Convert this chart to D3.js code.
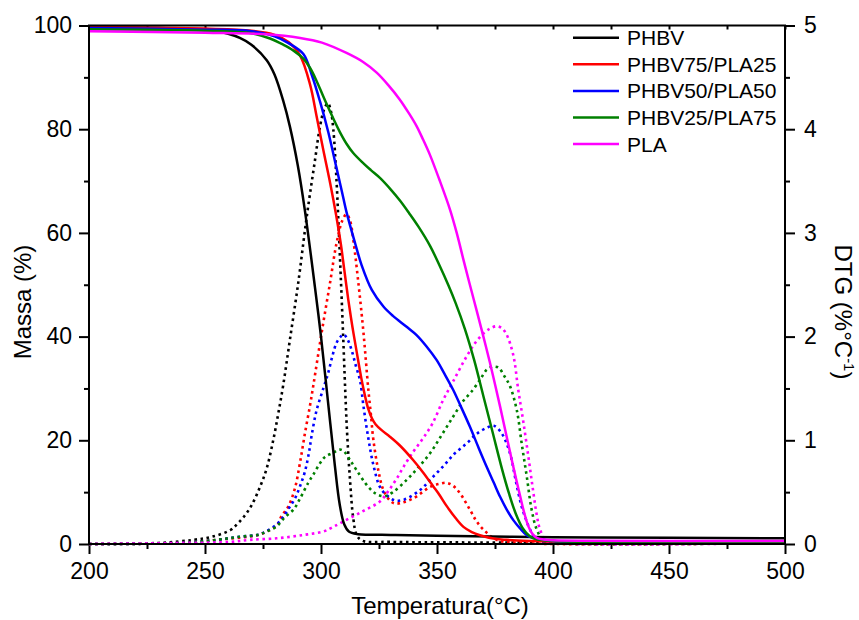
<!DOCTYPE html>
<html><head><meta charset="utf-8">
<script src="https://cdn.jsdelivr.net/npm/d3@7"></script>
<style>
body{margin:0;background:#fff;}
text{font-family:"Liberation Sans",Arial,sans-serif;fill:#000;}
</style></head>
<body>
<svg id="chart" width="859" height="620"></svg>
<script>
// ---------- DATA ----------
const seriesNames = ["PHBV","PHBV75/PLA25","PHBV50/PLA50","PHBV25/PLA75","PLA"];
const seriesColors = ["#000000","#ff0000","#0000ff","#008000","#ff00ff"];
const xTicks = [200,250,300,350,400,450,500];
const yLeftTicks = [0,20,40,60,80,100];
const yRightTicks = [0,1,2,3,4,5];

// Mass (%) curves: [temperature, mass]
const massPHBV = [[200,99.6],[230,99.5],[250,99.2],[256,98.8],[260,98.4],[265,97.6],[270,96.3],[276.6,93.3],[280,90.5],[283.7,85.5],[286.6,80.5],[290,73],[293,64.5],[297.4,49.5],[300,40],[303,27.5],[306,15],[308,7.8],[310,3.8],[312,2.4],[316,1.9],[330,1.75],[350,1.6],[400,1.3],[450,1.2],[500,1.1]];
const massPHBV75 = [[200,99.7],[250,99.4],[270,99],[280,98.2],[286,96.8],[291,94.2],[295.3,88.6],[298.1,82.5],[301,76],[304,69.5],[306.5,63.5],[308.5,58],[310,53],[311.8,47],[313.5,42],[315.4,37],[317.5,31.7],[319,28.5],[320.4,26],[322,24.2],[323.5,23.1],[326,22],[329.7,20.7],[334,19],[339.7,16.2],[344,13.8],[348.4,11.1],[351,9.5],[354.2,7.3],[358,5],[361.4,3.3],[365,2.3],[368.5,1.7],[375,1.0],[380,0.8],[390,0.6],[400,0.5],[500,0.4]];
const massPHBV50 = [[200,99.5],[250,99.2],[270,98.9],[280,97.9],[286,96.6],[292.4,94.5],[296,90.5],[299.6,85.3],[303.1,79.5],[306.7,72.5],[309,68],[311,64],[314.7,58],[317.5,53.8],[321.9,49],[326.9,45.8],[331,44],[336.9,41.9],[341.2,40.3],[345.5,38.1],[349.8,35.5],[353,33],[357,29.7],[360.5,26.3],[364.2,22.6],[367.8,18.7],[371.4,14.9],[374.5,11.8],[377.2,9.1],[380,6.7],[382.9,4.6],[385.8,3.0],[388.7,1.7],[392,1.1],[395.8,0.8],[400,0.6],[500,0.4]];
const massPHBV25 = [[200,99.3],[250,99],[270,98.5],[278,97.5],[283.7,96.3],[288,95.2],[292.4,93.6],[295.3,91.8],[298.1,89.3],[301,86.3],[303.9,83.4],[306,81.4],[308.2,79.4],[311,77.2],[313.9,75.4],[318.3,73.4],[321.5,72.1],[325.4,70.6],[330,68.4],[334.1,66.2],[338,63.8],[342,61.2],[347,57.5],[351,53.8],[355,49.8],[358,46.5],[362,41.5],[366,35.5],[370,28.5],[374,21.5],[378,14.5],[381,9.8],[384,5.8],[387,3],[390,1.5],[393,0.9],[400,0.6],[500,0.4]];
const massPLA = [[200,98.9],[250,98.6],[276.6,98.3],[291,97.6],[300.4,96.7],[311,94.7],[318,93],[324,90.9],[329,88.5],[334,85.7],[338,83],[341.2,80.6],[344,78],[347,75],[351,70.3],[355.6,64.5],[358.5,60],[361.3,55],[364,50.3],[367.1,45],[370,40],[372.8,35],[375,30.8],[377.2,26.5],[379.4,22],[381.5,17.7],[383.7,13.3],[385.8,9.3],[387.6,6],[389.4,3.4],[391.2,1.9],[393,1.2],[397,0.8],[400,0.7],[500,0.6]];

// DTG (%/°C) curves: [temperature, dtg]
const dtgPHBV = [[200,0],[230,0.01],[245,0.04],[253,0.07],[261,0.135],[264.2,0.2],[267,0.27],[270,0.37],[273.7,0.55],[276.6,0.73],[279.4,1.0],[281.6,1.26],[283.7,1.53],[286.6,1.97],[290.2,2.52],[293.1,3.03],[294.5,3.26],[297.4,3.7],[299.6,4.03],[301.5,4.2],[303,4.25],[304.3,4.17],[305.3,4.0],[306.7,3.5],[308,2.85],[309.3,2.15],[310.5,1.45],[311.3,1.05],[312.5,0.62],[313.9,0.25],[315.5,0.08],[318,0.03],[330,0.02],[500,0.015]];
const dtgPHBV75 = [[200,0],[240,0.01],[255,0.04],[268.7,0.07],[273,0.087],[276.6,0.12],[281,0.18],[283,0.27],[285.9,0.36],[288.8,0.54],[291,0.79],[293.1,1.07],[295.3,1.34],[296.7,1.53],[300.3,2.04],[303.9,2.52],[306.7,2.9],[309.2,3.12],[311,3.18],[312.5,3.12],[314,2.92],[316.1,2.52],[318.3,2.04],[320.4,1.49],[321.5,1.25],[322.6,1.0],[324.7,0.71],[326.9,0.52],[329.7,0.42],[332,0.39],[335,0.4],[339.8,0.44],[347,0.55],[351,0.58],[354.2,0.59],[357,0.56],[359.9,0.49],[364.2,0.33],[367,0.22],[370,0.14],[375.7,0.04],[385,0.01],[500,0.01]];
const dtgPHBV50 = [[200,0],[240,0.01],[255,0.04],[265,0.07],[273,0.09],[277,0.13],[281,0.19],[283.7,0.26],[286,0.34],[288.8,0.44],[291,0.56],[293.1,0.7],[294.8,0.88],[296,1.05],[298.1,1.29],[301,1.5],[303.1,1.65],[305,1.82],[306.7,1.94],[308.5,2.0],[309.8,2.02],[311.5,1.97],[313.2,1.87],[315,1.72],[316.8,1.58],[318.3,1.33],[320.4,1.02],[322.6,0.76],[325.4,0.55],[328.3,0.47],[332,0.42],[336,0.43],[342.7,0.52],[347.5,0.63],[352.7,0.75],[357.5,0.87],[362.8,0.97],[367,1.06],[371.4,1.12],[374.5,1.14],[377.5,1.08],[380,0.97],[382,0.83],[383.6,0.65],[385,0.5],[386.5,0.36],[388.3,0.24],[390.1,0.14],[393,0.04],[396,0.02],[500,0.01]];
const dtgPHBV25 = [[200,0],[240,0.01],[255,0.04],[265,0.07],[273,0.09],[276.6,0.12],[280.9,0.17],[284.5,0.26],[288.1,0.33],[291,0.44],[294.5,0.59],[296.7,0.67],[299.6,0.78],[301.7,0.84],[305.3,0.88],[308,0.91],[309.6,0.9],[312.5,0.81],[315.4,0.71],[320.4,0.55],[324,0.48],[327.5,0.46],[331,0.5],[337,0.62],[342,0.74],[347,0.875],[352,1.05],[357,1.23],[361,1.37],[365.6,1.49],[369,1.6],[371.4,1.68],[374,1.71],[376.5,1.7],[379,1.62],[381.5,1.52],[384.4,1.29],[386.5,0.97],[388.7,0.65],[390.8,0.33],[393,0.14],[396,0.03],[400,0.01],[500,0.01]];
const dtgPLA = [[200,0],[240,0.01],[260.8,0.02],[269.4,0.04],[280.9,0.055],[292.4,0.087],[301,0.12],[304,0.15],[308.2,0.2],[317.5,0.31],[325.4,0.41],[329,0.51],[332.6,0.63],[336,0.76],[339.8,0.89],[344,1.02],[348,1.16],[352.7,1.39],[357,1.57],[362.8,1.81],[366.5,1.94],[370,2.03],[373,2.08],[375.7,2.1],[378,2.08],[380,2.02],[382.9,1.82],[385,1.49],[387.2,1.18],[389.4,0.84],[391.2,0.55],[393,0.28],[394.4,0.14],[397,0.03],[400,0.01],[500,0.01]];

const massSeries = [massPHBV, massPHBV75, massPHBV50, massPHBV25, massPLA];
const dtgSeries = [dtgPHBV, dtgPHBV75, dtgPHBV50, dtgPHBV25, dtgPLA];

// ---------- CHART ----------
const svg = d3.select("#chart");
const L = 89, R = 785, T = 25.5, B = 544;
const x = d3.scaleLinear().domain([200,500]).range([L,R]);
const yL = d3.scaleLinear().domain([0,100]).range([B,T]);
const yR = d3.scaleLinear().domain([0,5]).range([B,T]);

const tickFont = "23px";

function styleAxis(g){
  g.selectAll(".domain").remove();
  g.selectAll("line").attr("stroke","#000").attr("stroke-width",2);
  g.selectAll("text").style("font-size",tickFont).attr("font-family","Liberation Sans, Arial, sans-serif");
}

const minorX = d3.range(225,500,50);
const minorYL = d3.range(10,100,20);
const minorYR = d3.range(0.5,5,1);
const fmt = d3.format("d");

svg.append("g").attr("transform",`translate(0,${B})`)
  .call(d3.axisBottom(x).tickValues(minorX).tickSize(5).tickSizeOuter(0).tickFormat("")).call(styleAxis);
svg.append("g").attr("transform",`translate(0,${B})`)
  .call(d3.axisBottom(x).tickValues(xTicks).tickSize(10).tickSizeOuter(0).tickPadding(9).tickFormat(fmt)).call(styleAxis);
svg.append("g").attr("transform",`translate(0,${T})`)
  .call(d3.axisTop(x).tickValues(xTicks.concat(minorX)).tickSize(-4).tickSizeOuter(0).tickFormat("")).call(styleAxis);
svg.append("g").attr("transform",`translate(${L},0)`)
  .call(d3.axisLeft(yL).tickValues(minorYL).tickSize(5).tickSizeOuter(0).tickFormat("")).call(styleAxis);
svg.append("g").attr("transform",`translate(${L},0)`)
  .call(d3.axisLeft(yL).tickValues(yLeftTicks).tickSize(10).tickSizeOuter(0).tickPadding(7).tickFormat(fmt)).call(styleAxis);
svg.append("g").attr("transform",`translate(${R},0)`)
  .call(d3.axisRight(yR).tickValues(minorYR).tickSize(5).tickSizeOuter(0).tickFormat("")).call(styleAxis);
svg.append("g").attr("transform",`translate(${R},0)`)
  .call(d3.axisRight(yR).tickValues(yRightTicks).tickSize(10).tickSizeOuter(0).tickPadding(9).tickFormat(fmt)).call(styleAxis);

// curves
const lineL = d3.line().x(d=>x(d[0])).y(d=>yL(d[1])).curve(d3.curveCatmullRom.alpha(0.5));
const lineR = d3.line().x(d=>x(d[0])).y(d=>yR(d[1])).curve(d3.curveCatmullRom.alpha(0.5));

dtgSeries.forEach((s,i)=>{
  svg.append("path").datum(s).attr("d",lineR).attr("fill","none")
    .attr("stroke",seriesColors[i]).attr("stroke-width",2.6).attr("stroke-dasharray","2.6,3.6");
});
massSeries.forEach((s,i)=>{
  svg.append("path").datum(s).attr("d",lineL).attr("fill","none")
    .attr("stroke",seriesColors[i]).attr("stroke-width",2.5);
});

// frame
svg.append("rect").attr("x",L).attr("y",T).attr("width",R-L).attr("height",B-T)
  .attr("fill","none").attr("stroke","#000").attr("stroke-width",2);

// legend
const leg = svg.append("g");
seriesNames.forEach((n,i)=>{
  const yy = 37.7 + i*26.6;
  leg.append("line").attr("x1",573).attr("x2",619).attr("y1",yy).attr("y2",yy)
    .attr("stroke",seriesColors[i]).attr("stroke-width",2.5);
  leg.append("text").attr("x",627).attr("y",yy).attr("dy","0.36em").style("font-size","21px").text(n);
});

// axis titles
svg.append("text").attr("x",440).attr("y",614).attr("text-anchor","middle").style("font-size","24px").text("Temperatura(°C)");
svg.append("text").attr("transform","translate(31,302) rotate(-90)").attr("text-anchor","middle").style("font-size","24px").text("Massa (%)");
const rt = svg.append("text").attr("transform","translate(835,312) rotate(90)").attr("text-anchor","middle").style("font-size","24px");
rt.append("tspan").text("DTG (%°C");
rt.append("tspan").attr("dy","-9").style("font-size","15px").text("-1");
rt.append("tspan").attr("dy","9").text(")");
</script>
</body></html>
